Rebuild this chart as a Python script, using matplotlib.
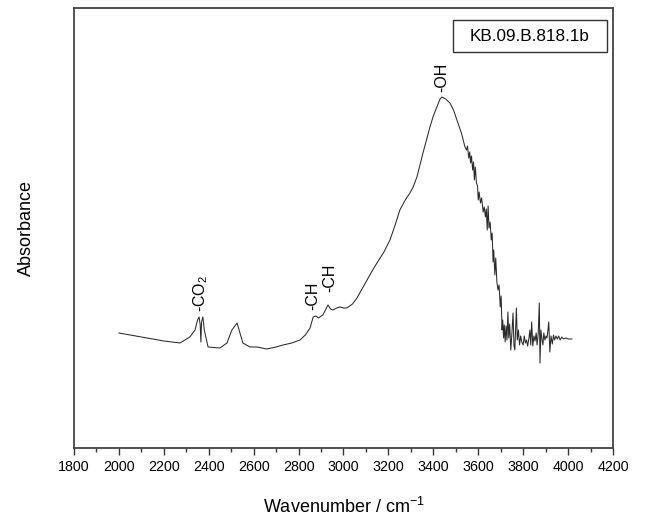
import matplotlib
matplotlib.use("Agg")
import matplotlib.pyplot as plt
from matplotlib.ticker import MultipleLocator
from matplotlib.patches import Rectangle

plt.rcParams['font.family'] = ['Liberation Sans', 'DejaVu Sans']
plt.rcParams['mathtext.fontset'] = 'custom'
plt.rcParams['mathtext.rm'] = 'Liberation Sans'

# spectrum (absorbance in arbitrary units)
wavenumber = [2000, 2100, 2200, 2272, 2316, 2339, 2350, 2357, 2362, 2365, 2368, 2374, 2380,
              2397, 2450, 2481, 2503, 2526, 2539, 2552, 2583, 2615, 2658, 2700, 2731, 2770,
              2806, 2830, 2851, 2865, 2878, 2888, 2908, 2922, 2931, 2942, 2953, 2970, 2984,
              3000, 3015, 3040, 3060, 3080, 3105, 3130, 3149, 3180, 3207, 3230, 3251, 3275,
              3296, 3310, 3327, 3354, 3385, 3400, 3416, 3430, 3438, 3455, 3474, 3490, 3510,
              3525, 3541,
              3548, 3552, 3558, 3562, 3566, 3570, 3575, 3579, 3583, 3587, 3592, 3597, 3600,
              3604, 3610, 3615, 3622, 3627, 3632, 3636, 3640, 3644, 3648, 3653, 3658, 3662,
              3666, 3669, 3674, 3678, 3683, 3688, 3693, 3698, 3702, 3706, 3709, 3713, 3716,
              3720, 3724, 3728, 3732, 3736, 3740, 3745, 3750, 3755, 3759, 3763, 3766, 3770,
              3774, 3779, 3784, 3789, 3794, 3800, 3805, 3810, 3815, 3820, 3826, 3830, 3834,
              3838, 3843, 3848, 3853, 3858, 3862, 3867, 3872, 3875, 3879, 3884, 3888, 3892,
              3897, 3902, 3906, 3910, 3914, 3919, 3924, 3930, 3935, 3940, 3946, 3952, 3958,
              3965, 3972, 3980, 3990, 4000, 4017]
absorbance = [115, 111, 107, 105, 111, 118, 128, 131, 123, 106, 126, 131, 118,
              101, 100, 105, 118, 125, 115, 105, 101, 101, 99, 101, 103, 105,
              108, 113, 120, 131, 132, 130, 133, 139, 143, 139, 138, 140, 141,
              140, 140, 144, 150, 158, 168, 178, 185, 196, 208, 223, 238, 248,
              255, 261, 271, 295, 321, 332, 341, 349, 351, 349, 345, 338, 325,
              315, 301,
              298, 302, 290, 296, 285, 292, 278, 286, 268, 281, 265, 262, 248,
              256, 245, 250, 236, 241, 231, 239, 218, 242, 220, 226, 208, 215,
              186, 198, 173, 190, 166, 158, 163, 141, 152, 118, 128, 110, 123,
              106, 122, 108, 136, 110, 124, 98, 115, 135, 103, 98, 116, 140,
              108, 118, 103, 112, 106, 103, 112, 105, 108, 102, 110, 118, 103,
              126, 102, 112, 107, 115, 103, 114, 145, 85, 118, 108, 103, 115,
              108, 112, 110, 117, 126, 96, 112, 104, 113, 108, 112, 109, 112,
              108, 111, 109, 110, 109, 109]

# band assignments: label, position, label bottom
band_labels = ["-CO$_2$", "-CH", "-CH", "-OH"]
band_x = [2365, 2864, 2940, 3438]
band_y = [136, 138, 156, 356]

sample_name = "KB.09.B.818.1b"

fig = plt.figure(figsize=(6.47, 5.2), dpi=100)
ax = fig.add_axes([0.1144, 0.1385, 0.833, 0.8461])

ax.plot(wavenumber, absorbance, color='#2a2a2a', lw=0.75)

for lab, x, y in zip(band_labels, band_x, band_y):
    ax.text(x, y, lab, rotation=90, ha='center', va='bottom', fontsize=11.5)

# sample name box
ax.add_patch(Rectangle((0.703, 0.9), 0.286, 0.073, transform=ax.transAxes,
                       fc='white', ec='#333333', lw=1))
ax.text(0.846, 0.936, sample_name, transform=ax.transAxes, ha='center', va='center',
        fontsize=12.3)

ax.set_xlim(1800, 4200)
ax.set_ylim(0, 440)
ax.xaxis.set_major_locator(MultipleLocator(200))
ax.xaxis.set_minor_locator(MultipleLocator(100))
ax.tick_params(axis='x', which='major', direction='out', length=5, width=1, labelsize=10.3, colors='#333333')
ax.tick_params(axis='x', which='minor', direction='out', length=3, width=1, colors='#333333')
ax.tick_params(axis='x', labelcolor='black')
ax.set_yticks([])
for s in ax.spines.values():
    s.set_color('#444444')
    s.set_linewidth(1.3)

ax.set_xlabel("Wavenumber / cm$^{-1}$", fontsize=13, labelpad=17)
ax.set_ylabel("Absorbance", fontsize=13, labelpad=28)

fig.savefig("out.png", dpi=100)
